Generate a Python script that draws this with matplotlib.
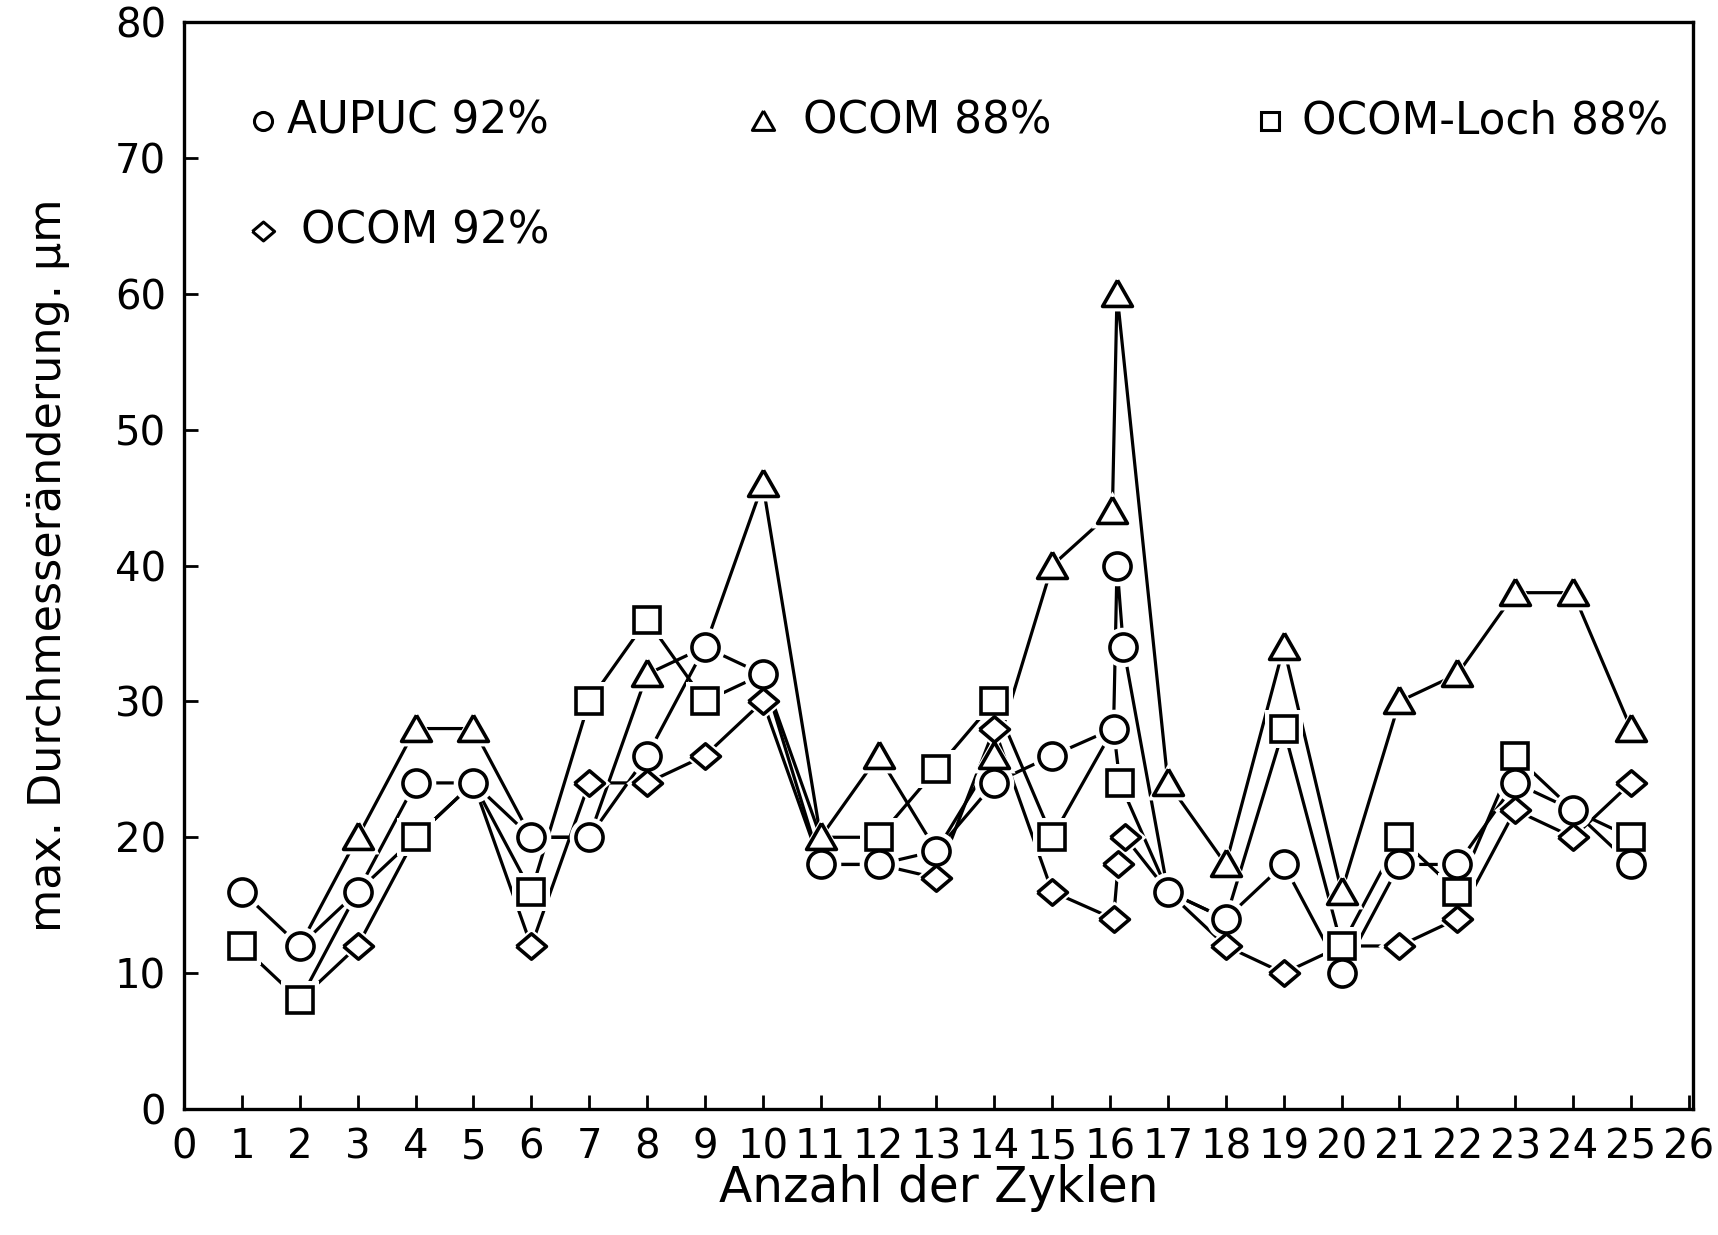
"""Max. Durchmesseränderung über Anzahl der Zyklen, vier Materialvarianten."""

import matplotlib

matplotlib.use("Agg")

import matplotlib.pyplot as plt


# Kreise: AUPUC 92%
AUPUC92_X = [1, 2, 3, 4, 5, 6, 7, 8, 9, 10, 11, 12, 13, 14, 15,
             16.06, 16.12, 16.23, 17, 18, 19, 20, 21, 22, 23, 24, 25]
AUPUC92_Y = [16, 12, 16, 24, 24, 20, 20, 26, 34, 32, 18, 18, 19, 24, 26,
             28, 40, 34, 16, 14, 18, 10, 18, 18, 24, 22, 18]
AUPUC92_HIDDEN = []

# Dreiecke: OCOM 88%
OCOM88_X = [2, 3, 4, 5, 6, 7, 8, 9, 10, 11, 12, 13, 14, 15,
            16.04, 16.12, 17, 18, 19, 20, 21, 22, 23, 24, 25]
OCOM88_Y = [12, 20, 28, 28, 20, 20, 32, 34, 46, 20, 26, 19, 26, 40,
            44, 60, 24, 18, 34, 16, 30, 32, 38, 38, 28]
OCOM88_HIDDEN = [2, 6, 7, 9, 13]

# Quadrate: OCOM-Loch 88%
LOCH88_X = [1, 2, 3, 4, 5, 6, 7, 8, 9, 10, 11, 12, 13, 14, 15,
            16.06, 16.17, 17, 18, 19, 20, 21, 22, 23, 24, 25]
LOCH88_Y = [12, 8, 16, 20, 24, 16, 30, 36, 30, 32, 20, 20, 25, 30, 20,
            28, 24, 16, 14, 28, 12, 20, 16, 26, 22, 20]
LOCH88_HIDDEN = [3, 5, 10, 11, 16.06, 17, 18, 24]

# Rauten: OCOM 92%
OCOM92_X = [2, 3, 4, 5, 6, 7, 8, 9, 10, 11, 12, 13, 14, 15,
            16.06, 16.14, 16.26, 17, 18, 19, 20, 21, 22, 23, 24, 25]
OCOM92_Y = [8, 12, 20, 24, 12, 24, 24, 26, 30, 18, 18, 17, 28, 16,
            14, 18, 20, 16, 12, 10, 12, 12, 14, 22, 20, 24]
OCOM92_HIDDEN = [2, 4, 5, 11, 12, 17, 20]

X_TICKS = list(range(0, 27))
Y_TICKS = list(range(0, 81, 10))

LEGEND_LABELS = ["AUPUC 92%", "OCOM 88%", "OCOM-Loch 88%", "OCOM 92%"]

TRIANGLE = [(0, 0.95), (-1, -0.8), (1, -0.8), (0, 0.95)]
DIAMOND = [(-1, 0), (0, 0.85), (1, 0), (0, -0.85), (-1, 0)]

LINE_WIDTH = 2.3
EDGE_WIDTH = 2.6
HALO = 9


def series_list():
    return [
        (AUPUC92_X, AUPUC92_Y, AUPUC92_HIDDEN, "o", 19.5),
        (OCOM88_X, OCOM88_Y, OCOM88_HIDDEN, TRIANGLE, 21.5),
        (LOCH88_X, LOCH88_Y, LOCH88_HIDDEN, "s", 18.5),
        (OCOM92_X, OCOM92_Y, OCOM92_HIDDEN, DIAMOND, 21.5),
    ]


def draw_series(ax):
    for xs, ys, hidden, marker, size in series_list():
        ax.plot(xs, ys, color="black", linewidth=LINE_WIDTH, zorder=1)

    for xs, ys, hidden, marker, size in series_list():
        shown = [i for i, x in enumerate(xs) if x not in hidden]
        px = [xs[i] for i in shown]
        py = [ys[i] for i in shown]
        ax.plot(px, py, linestyle="none", marker=marker, markersize=size + HALO,
                markerfacecolor="white", markeredgecolor="white",
                markeredgewidth=0, zorder=2)
        ax.plot(px, py, linestyle="none", marker=marker, markersize=size,
                markerfacecolor="white", markeredgecolor="black",
                markeredgewidth=EDGE_WIDTH, zorder=3)


def draw_legend(ax):
    entries = [
        ("o", 13, 0.0523, 0.909, 0.0683),
        (TRIANGLE, 16, 0.384, 0.909, 0.410),
        ("s", 12.5, 0.720, 0.909, 0.741),
        (DIAMOND, 16, 0.0523, 0.808, 0.0777),
    ]
    for (marker, size, mx, my, tx), label in zip(entries, LEGEND_LABELS):
        ax.plot([mx], [my], transform=ax.transAxes, linestyle="none",
                marker=marker, markersize=size, markerfacecolor="white",
                markeredgecolor="black", markeredgewidth=2.2, zorder=4,
                clip_on=False)
        ax.text(tx, my, label, transform=ax.transAxes, fontsize=31.5,
                ha="left", va="center", zorder=4)


def main():
    fig = plt.figure(figsize=(17.18, 12.35), dpi=100)
    ax = fig.add_axes([0.1071, 0.102, 0.8783, 0.8802])

    draw_series(ax)
    draw_legend(ax)

    ax.set_xlim(0, 26.07)
    ax.set_ylim(0, 80)
    ax.set_xticks(X_TICKS)
    ax.set_yticks(Y_TICKS)
    ax.tick_params(direction="in", length=10, width=2.0, labelsize=29, pad=13)
    for spine in ax.spines.values():
        spine.set_linewidth(2.4)

    ax.set_xlabel("Anzahl der Zyklen", fontsize=35, labelpad=-2)
    ax.set_ylabel("max. Durchmesseränderung. µm", fontsize=32, labelpad=32)

    fig.savefig("out.png", dpi=100, facecolor="white")
    plt.close(fig)


if __name__ == "__main__":
    main()
